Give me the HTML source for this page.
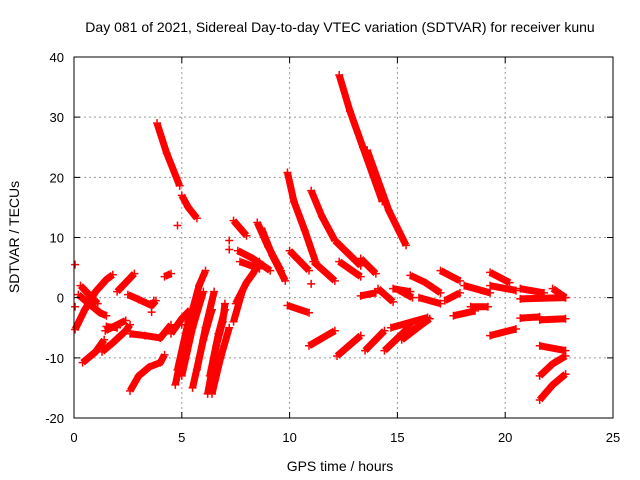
<!DOCTYPE html>
<html><head><meta charset="utf-8"><style>
body{margin:0;background:#fff}
svg{display:block;font-family:"Liberation Sans",sans-serif}
</style></head><body>
<svg id="c" width="640" height="480">
<text x="340" y="32" font-size="14" text-anchor="middle">Day 081 of 2021, Sidereal Day-to-day VTEC variation (SDTVAR) for receiver kunu</text>
<text x="0" y="0" font-size="14" text-anchor="middle" transform="translate(19,237) rotate(-90)">SDTVAR / TECUs</text>
<text x="340" y="471" font-size="14" text-anchor="middle">GPS time / hours</text>
<g id="grid"></g><g id="marks"></g><g id="axes"></g>
</svg>
<script>
const xTicks=[0,5,10,15,20,25];
const yTicks=[-20,-10,0,10,20,30,40];
const traces=[
[[0.4,-10.8],[1,-9],[1.4,-7]],
[[0.05,-5.3],[0.5,-2],[1,1],[1.5,3],[1.8,3.8]],
[[0.2,0.5],[0.7,-1],[1.2,-2.5],[1.5,-3]],
[[0.3,2],[0.7,0.5],[1.1,-1]],
[[1.5,-4.8],[2,-5]],
[[1.3,-9],[1.8,-7.5],[2.4,-5.5],[2.6,-4.5]],
[[2.0,1],[2.4,2.5],[2.8,4]],
[[2.5,0.5],[3,-0.3],[3.6,-1.3],[3.8,-0.5]],
[[2.6,-15.5],[3,-13],[3.5,-11.5],[4,-10.8],[4.2,-9.5]],
[[1.45,-5.5],[2.4,-3.8]],
[[2.6,-6],[3.3,-6.3],[4,-6.7],[4.5,-4.5]],
[[4.2,3.5],[4.5,4]],
[[3.85,29],[4.3,24],[4.9,18.6]],
[[5,17],[5.3,15],[5.7,13.2]],
[[4.7,-14.5],[5.2,-6],[5.8,2],[6.1,4.5]],
[[4.8,-12],[5.3,-4],[5.8,0.5]],
[[5.0,-13],[5.5,-5],[6.0,1]],
[[5.5,-15],[6,-7],[6.4,-2]],
[[5.7,-12],[6.1,-5],[6.5,1]],
[[6.2,-16],[6.6,-8],[6.9,-4],[7.0,-1]],
[[6.4,-16],[6.8,-10],[7.2,-5]],
[[6.3,-13],[6.7,-6],[7.0,-2]],
[[4.5,-6],[5.0,-3.5],[5.4,-2]],
[[7.4,-4],[7.8,1]],
[[7.5,-1],[8.0,2.5],[8.3,4],[8.6,6]],
[[7.4,12.8],[8,10.3]],
[[7.6,7.8],[8.3,6.5],[9.1,4.5]],
[[7.7,6],[8.6,4.8]],
[[8.5,12.5],[9,8.5],[9.6,4.5]],
[[8.7,11.5],[9.2,7],[9.8,2.8]],
[[9.9,20.8],[10.2,16],[10.7,11.2],[11.2,6]],
[[10,7.8],[10.9,4.5]],
[[9.9,-1.3],[10.9,-2.5]],
[[11,17.8],[11.5,13.5],[12.1,9.5]],
[[11.1,6],[12.1,2.8]],
[[12.3,37],[12.8,31],[13.4,25],[14.3,16]],
[[13.6,24.5],[14.6,14.5],[15.4,8.7]],
[[12.1,9.5],[13.3,5.3]],
[[12.3,6],[13.3,3.5]],
[[13.3,6.5],[14,4]],
[[10.9,-8],[12.1,-5.5]],
[[12.2,-9.7],[13.3,-6.3]],
[[13.5,-8.8],[14.4,-5.5]],
[[14.4,-8.8],[15.6,-4.7]],
[[13.3,0.3],[14,0.8]],
[[14.1,1.5],[14.8,-0.7]],
[[14.8,1.5],[15.6,1]],
[[15.1,1.2],[15.7,0]],
[[15.6,3.7],[16.3,2.5],[17,0.8]],
[[14.7,-5],[16.4,-3.3]],
[[15.2,-7],[16.3,-4]],
[[15.5,-6],[16.5,-3.5]],
[[16,0],[17,-1]],
[[17,4.5],[17.9,2.8]],
[[17.2,-0.5],[17.9,0.8]],
[[18.1,2],[19.3,0.8]],
[[17.6,-3],[18.6,-2.2]],
[[19.3,4.2],[20.2,2.5]],
[[19.3,2],[20.5,1.2]],
[[19.3,-6.3],[20.5,-5.2]],
[[18.4,-1.5],[19.2,-1.5]],
[[20.7,1.5],[21.8,0.8]],
[[20.7,-0.2],[22.8,0]],
[[20.7,-3.4],[21.6,-3.2]],
[[21.6,-3.7],[22.8,-3.5]],
[[21.6,-17],[22.2,-14.5],[22.8,-12.7]],
[[21.6,-13],[22.2,-11],[22.8,-9.7]],
[[21.6,-8],[22.8,-8.8]],
[[22.2,1.5],[22.8,0]]
];
const points=[[0.05,5.5],[0.05,-1.5],[4.8,12],[7.2,9.5],[7.2,8],[11,2.3],[3.7,-0.5],[3.6,-2.4],[5,-4.5]];
const X0=74,X1=613,Y0=418,Y1=57;
const sx=h=>X0+(h-0)/25*(X1-X0);
const sy=v=>Y0-(v+20)/60*(Y0-Y1);
const NS="http://www.w3.org/2000/svg";
const grid=document.getElementById('grid'),marks=document.getElementById('marks'),axes=document.getElementById('axes');
function mk(tag,at,parent){const e=document.createElementNS(NS,tag);for(const k in at)e.setAttribute(k,at[k]);parent.appendChild(e);return e;}
xTicks.forEach(t=>{const x=sx(t);
 if(t>0&&t<25){const g=mk('line',{x1:x,x2:x,y1:Y1,y2:Y0,stroke:'#999','stroke-dasharray':'2,3'},grid);
 
 }
 const tk=mk('path',{d:`M${x},${Y0}v-6M${x},${Y1}v6`,stroke:'#000'},axes);
 
 
 const l=mk('text',{x:x,y:Y0+24,'font-size':13,'text-anchor':'middle'},axes);l.textContent=t;
 
 });
yTicks.forEach(t=>{const y=sy(t);
 if(t>-20&&t<40){const g=mk('line',{x1:X0,x2:X1,y1:y,y2:y,stroke:'#999','stroke-dasharray':'2,3'},grid);
 
 }
 const tk=mk('path',{d:`M${X0},${y}h6M${X1},${y}h-6`,stroke:'#000'},axes);
 
 
 const l=mk('text',{x:X0-10,y:y+5,'font-size':13,'text-anchor':'end'},axes);l.textContent=t;
 
 });
const fr=mk('rect',{x:X0,y:Y1,width:X1-X0,height:Y0-Y1,fill:'none',stroke:'#000'},axes);


traces.forEach(tr=>{
 const p=mk('polyline',{points:tr.map(d=>sx(d[0])+','+sy(d[1])).join(' '),fill:'none',stroke:'#f00','stroke-width':7,'stroke-linejoin':'round'},marks);
 
 
 tr.forEach(d=>{const m=mk('path',{d:`M${sx(d[0])-4},${sy(d[1])}h8M${sx(d[0])},${sy(d[1])-4}v8`,stroke:'#f00','stroke-width':1.5},marks);
 
 });
});
points.forEach(d=>{const m=mk('path',{d:`M${sx(d[0])-4},${sy(d[1])}h8M${sx(d[0])},${sy(d[1])-4}v8`,stroke:'#f00','stroke-width':1.5},marks);
 
 });
</script>
</body></html>
